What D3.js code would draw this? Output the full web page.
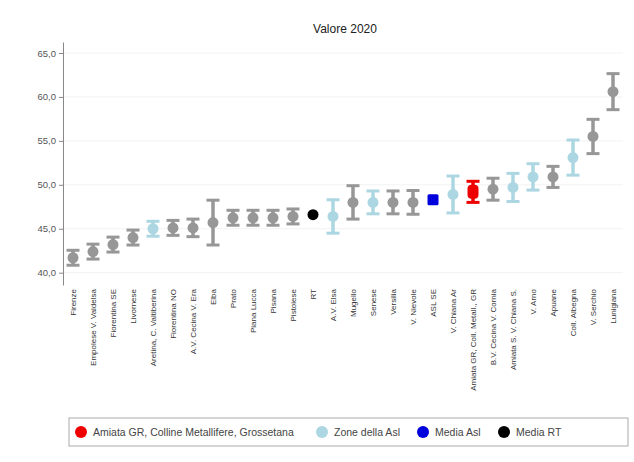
<!DOCTYPE html>
<html><head><meta charset="utf-8">
<script src="https://cdn.jsdelivr.net/npm/d3@7"></script>
<style>body{margin:0;background:#fff;font-family:"Liberation Sans",Arial,sans-serif;}</style>
</head><body><svg id="c" width="634" height="462"></svg>
<script>
const categories = ["Firenze","Empolese V. Valdelsa","Fiorentina SE","Livornese","Aretina, C. Valtiberina","Fiorentina NO","A.V. Cecina V. Era","Elba","Prato","Piana Lucca","Pisana","Pistoiese","RT","A.V. Elsa","Mugello","Senese","Versilia","V. Nievole","ASL SE","V. Chiana Ar","Amiata GR, Coll. Metall., GR","B.V. Cecina V. Cornia","Amiata S. V. Chiana S.","V. Arno","Apuane","Coll. Albegna","V. Serchio","Lunigiana"];
const values = [41.7,42.4,43.2,44.0,45.0,45.1,45.1,45.7,46.25,46.25,46.25,46.4,46.6,46.4,48.0,48.0,48.0,48.0,48.3,48.9,49.2,49.5,49.7,50.9,50.9,53.1,55.5,60.6];
const errors = [0.85,0.85,0.85,0.85,0.85,0.85,1.0,2.55,0.85,0.85,0.85,0.85,0,1.9,1.9,1.3,1.3,1.35,0,2.1,1.2,1.25,1.6,1.5,1.2,2.0,1.95,2.05];
const groups = ["z","z","z","z","asl","z","z","z","z","z","z","z","rt","asl","z","asl","z","z","media","asl","amiata","z","asl","asl","z","asl","z","z"];
const yTicks = [40,45,50,55,60,65];
const legendItems = [["amiata","Amiata GR, Colline Metallifere, Grossetana"],["asl","Zone della Asl"],["media","Media Asl"],["rt","Media RT"]];
const colors = {z:"#979797", asl:"#acd7e2", amiata:"#ee0000", media:"#0000dd", rt:"#000000"};

const svg = d3.select("#c");
const x = d3.scaleBand().domain(categories).range([63,623]);
const y = d3.scaleLinear().domain([38.6,66.25]).range([285,42]);

svg.append("text").attr("x",345).attr("y",33).attr("text-anchor","middle")
  .attr("font-size",12).attr("fill","#222").text("Valore 2020");

svg.append("g").selectAll("line").data(yTicks).join("line")
  .attr("x1",64).attr("x2",623).attr("y1",d=>y(d)).attr("y2",d=>y(d))
  .attr("stroke","#f2f2f2").attr("stroke-width",1);

const yAxis = svg.append("g").attr("transform","translate(63,0)")
  .call(d3.axisLeft(y).tickValues(yTicks).tickFormat(d=>d3.format(".1f")(d).replace(".",",")).tickSize(4).tickSizeOuter(0));
yAxis.select(".domain").attr("stroke","#888");
yAxis.selectAll(".tick line").attr("stroke","#888");
yAxis.selectAll("text").attr("font-size",9.5).attr("fill","#555").attr("font-family","Liberation Sans, Arial");

svg.append("g").selectAll("text").data(categories).join("text")
  .attr("transform",d=>`translate(${x(d)+x.bandwidth()/2+3},289) rotate(-90)`)
  .attr("text-anchor","end").attr("font-size",8).attr("fill","#333").text(d=>d);

const data = categories.map((c,i)=>({c,v:values[i],e:errors[i],g:groups[i]}));
const marks = svg.append("g").selectAll("g").data(data).join("g")
  .attr("transform",d=>`translate(${x(d.c)+x.bandwidth()/2},0)`);
const eb = marks.filter(d=>d.e>0);
eb.append("line").attr("x1",0).attr("x2",0).attr("y1",d=>y(d.v-d.e)).attr("y2",d=>y(d.v+d.e))
  .attr("stroke",d=>colors[d.g]).attr("stroke-width",3.5);
eb.append("line").attr("x1",-6.5).attr("x2",6.5).attr("y1",d=>y(d.v-d.e)).attr("y2",d=>y(d.v-d.e))
  .attr("stroke",d=>colors[d.g]).attr("stroke-width",3);
eb.append("line").attr("x1",-6.5).attr("x2",6.5).attr("y1",d=>y(d.v+d.e)).attr("y2",d=>y(d.v+d.e))
  .attr("stroke",d=>colors[d.g]).attr("stroke-width",3);
marks.filter(d=>d.g==="z"||d.g==="asl"||d.g==="rt").append("circle")
  .attr("cy",d=>y(d.v)).attr("r",d=>d.g==="rt"?5.5:5.5).attr("fill",d=>colors[d.g]);
marks.filter(d=>d.g==="media").append("rect")
  .attr("x",-5.5).attr("y",d=>y(d.v)-5.5).attr("width",11).attr("height",11).attr("rx",1.5).attr("fill",colors.media);
marks.filter(d=>d.g==="amiata").append("rect")
  .attr("x",-5.5).attr("y",d=>y(d.v)-7).attr("width",11).attr("height",14).attr("rx",4).attr("fill",colors.amiata);

const lg = svg.append("g");
lg.append("rect").attr("x",69).attr("y",418).attr("width",559).attr("height",28)
  .attr("fill","#fff").attr("stroke","#aaa");
const lx = [81,322,423,504];
const lw = [null,null,null,null];
legendItems.forEach((it,i)=>{
  lg.append("circle").attr("cx",lx[i]).attr("cy",432).attr("r",6).attr("fill",colors[it[0]]);
  lg.append("text").attr("x",lx[i]+12).attr("y",435.5).attr("font-size",10.5).attr("fill","#444").text(it[1]);
});
</script></body></html>
